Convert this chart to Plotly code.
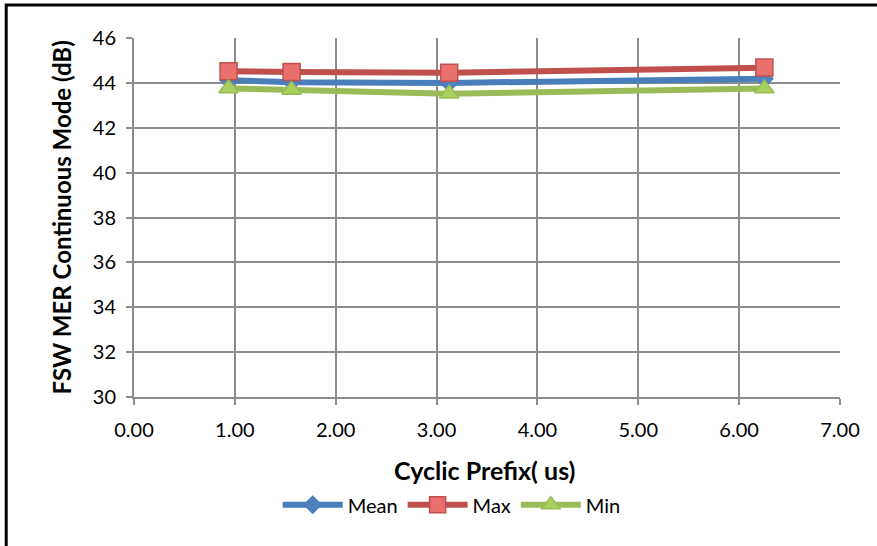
import plotly.graph_objects as go

cyclic_prefix = [0.9375, 1.5625, 3.125, 6.25]
mer_mean = [44.12, 44.03, 44.00, 44.18]
mer_max = [44.52, 44.48, 44.45, 44.68]
mer_min = [43.75, 43.68, 43.52, 43.75]
x_ticks = [0, 1, 2, 3, 4, 5, 6, 7]
x_tick_labels = ["0.00", "1.00", "2.00", "3.00", "4.00", "5.00", "6.00", "7.00"]
y_ticks = [30, 32, 34, 36, 38, 40, 42, 44, 46]

FONT = "Lato"

fig = go.Figure()
series = [
    ("Mean", mer_mean, "#4A7EBB", "#4F81BD", "diamond", 13),
    ("Max", mer_max, "#C0504D", "#E8706D", "square", 17),
    ("Min", mer_min, "#9BBB59", "#A9D05C", "triangle-up", 17),
]
for name, vals, lc, mc, sym, ms in series:
    fig.add_trace(go.Scatter(
        x=cyclic_prefix, y=vals, name=name, mode="lines+markers",
        line=dict(color=lc, width=6),
        marker=dict(symbol=sym, size=ms, color=mc, line=dict(color=lc, width=1.5)),
    ))

fig.update_layout(
    width=877, height=546,
    margin=dict(l=134, r=37, t=38, b=149),
    paper_bgcolor="white", plot_bgcolor="white",
    font=dict(family=FONT, size=20, color="black"),
    showlegend=True,
    legend=dict(orientation="h", x=0.45, xanchor="center", y=-0.30, yanchor="middle",
                font=dict(size=20), itemwidth=60, tracegroupgap=0),
    xaxis=dict(range=[0, 7], tickvals=x_ticks, ticktext=x_tick_labels,
               showgrid=True, gridcolor="#8C8C8C", gridwidth=2,
               showline=True, linecolor="#8C8C8C", linewidth=2,
               ticks="outside", ticklen=6, tickcolor="#8C8C8C", tickwidth=2,
               ticklabelstandoff=8,
               zeroline=False, tickfont=dict(size=20)),
    yaxis=dict(range=[30, 46], tickvals=y_ticks,
               showgrid=True, gridcolor="#8C8C8C", gridwidth=2,
               showline=True, linecolor="#8C8C8C", linewidth=2,
               ticks="outside", ticklen=6, tickcolor="#8C8C8C", tickwidth=2,
               ticklabelstandoff=6,
               zeroline=False, tickfont=dict(size=20)),
    annotations=[
        dict(text="<b>Cyclic Prefix( us)</b>", xref="paper", yref="paper",
             x=0.497, y=-0.203, xanchor="center", yanchor="middle",
             showarrow=False, font=dict(size=25)),
        dict(text="<b>FSW MER Continuous Mode (dB)</b>", xref="paper", yref="paper",
             x=-0.102, y=0.5, xanchor="center", yanchor="middle", textangle=-90,
             showarrow=False, font=dict(size=24)),
    ],
    shapes=[
        dict(type="path", xref="paper", yref="paper",
             path="M -0.181,-0.5 L -0.181,1.092 L 1.06,1.092",
             line=dict(color="black", width=3)),
    ],
)

fig.write_html("out.html")
